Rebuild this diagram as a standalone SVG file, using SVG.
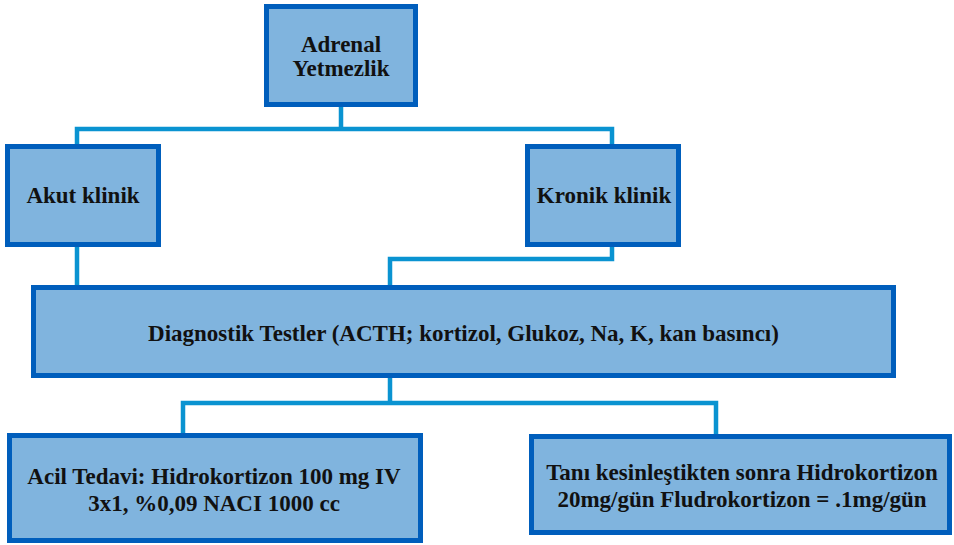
<svg xmlns="http://www.w3.org/2000/svg" width="954" height="545" viewBox="0 0 954 545">
<style>
.box{fill:#80b4de;stroke:#005ebc;stroke-width:5}
.t{font-family:'Liberation Serif','DejaVu Serif',serif;font-weight:700;font-size:23px;fill:#111;text-anchor:middle}
.c{fill:none;stroke:#0a93d1;stroke-width:4.5}
</style>
<rect width="954" height="545" fill="#fff"/>
<g id="connectors">
<path class="c" d="M341,107 V129 M77,146 V129 H612 V146"/>
<path class="c" d="M77,247 V287"/>
<path class="c" d="M612,247 V259 H390 V287"/>
<path class="c" d="M390,378 V403 M183,435 V403 H716 V436"/>
</g>
<g id="adrenal">
<rect class="box" x="266.5" y="6.5" width="149" height="98"/>
<text class="t" x="341" y="52">Adrenal</text>
<text class="t" x="341" y="76">Yetmezlik</text>
</g>
<g id="akut">
<rect class="box" x="7.5" y="146.5" width="151" height="98"/>
<text class="t" x="83" y="203">Akut klinik</text>
</g>
<g id="kronik">
<rect class="box" x="527.5" y="146.5" width="151" height="98"/>
<text class="t" x="604" y="203">Kronik klinik</text>
</g>
<g id="diagnostik">
<rect class="box" x="33.5" y="287.5" width="860" height="88"/>
<text class="t" x="463.5" y="341">Diagnostik Testler (ACTH; kortizol, Glukoz, Na, K, kan basıncı)</text>
</g>
<g id="acil">
<rect class="box" x="9.5" y="435.5" width="411" height="105"/>
<text class="t" x="214" y="484">Acil Tedavi: Hidrokortizon 100 mg IV</text>
<text class="t" x="214" y="511">3x1, %0,09 NACI 1000 cc</text>
</g>
<g id="tani">
<rect class="box" x="531.5" y="436.5" width="418" height="96"/>
<text class="t" x="742" y="480">Tanı kesinleştikten sonra Hidrokortizon</text>
<text class="t" x="742" y="507">20mg/gün Fludrokortizon = .1mg/gün</text>
</g>
</svg>
